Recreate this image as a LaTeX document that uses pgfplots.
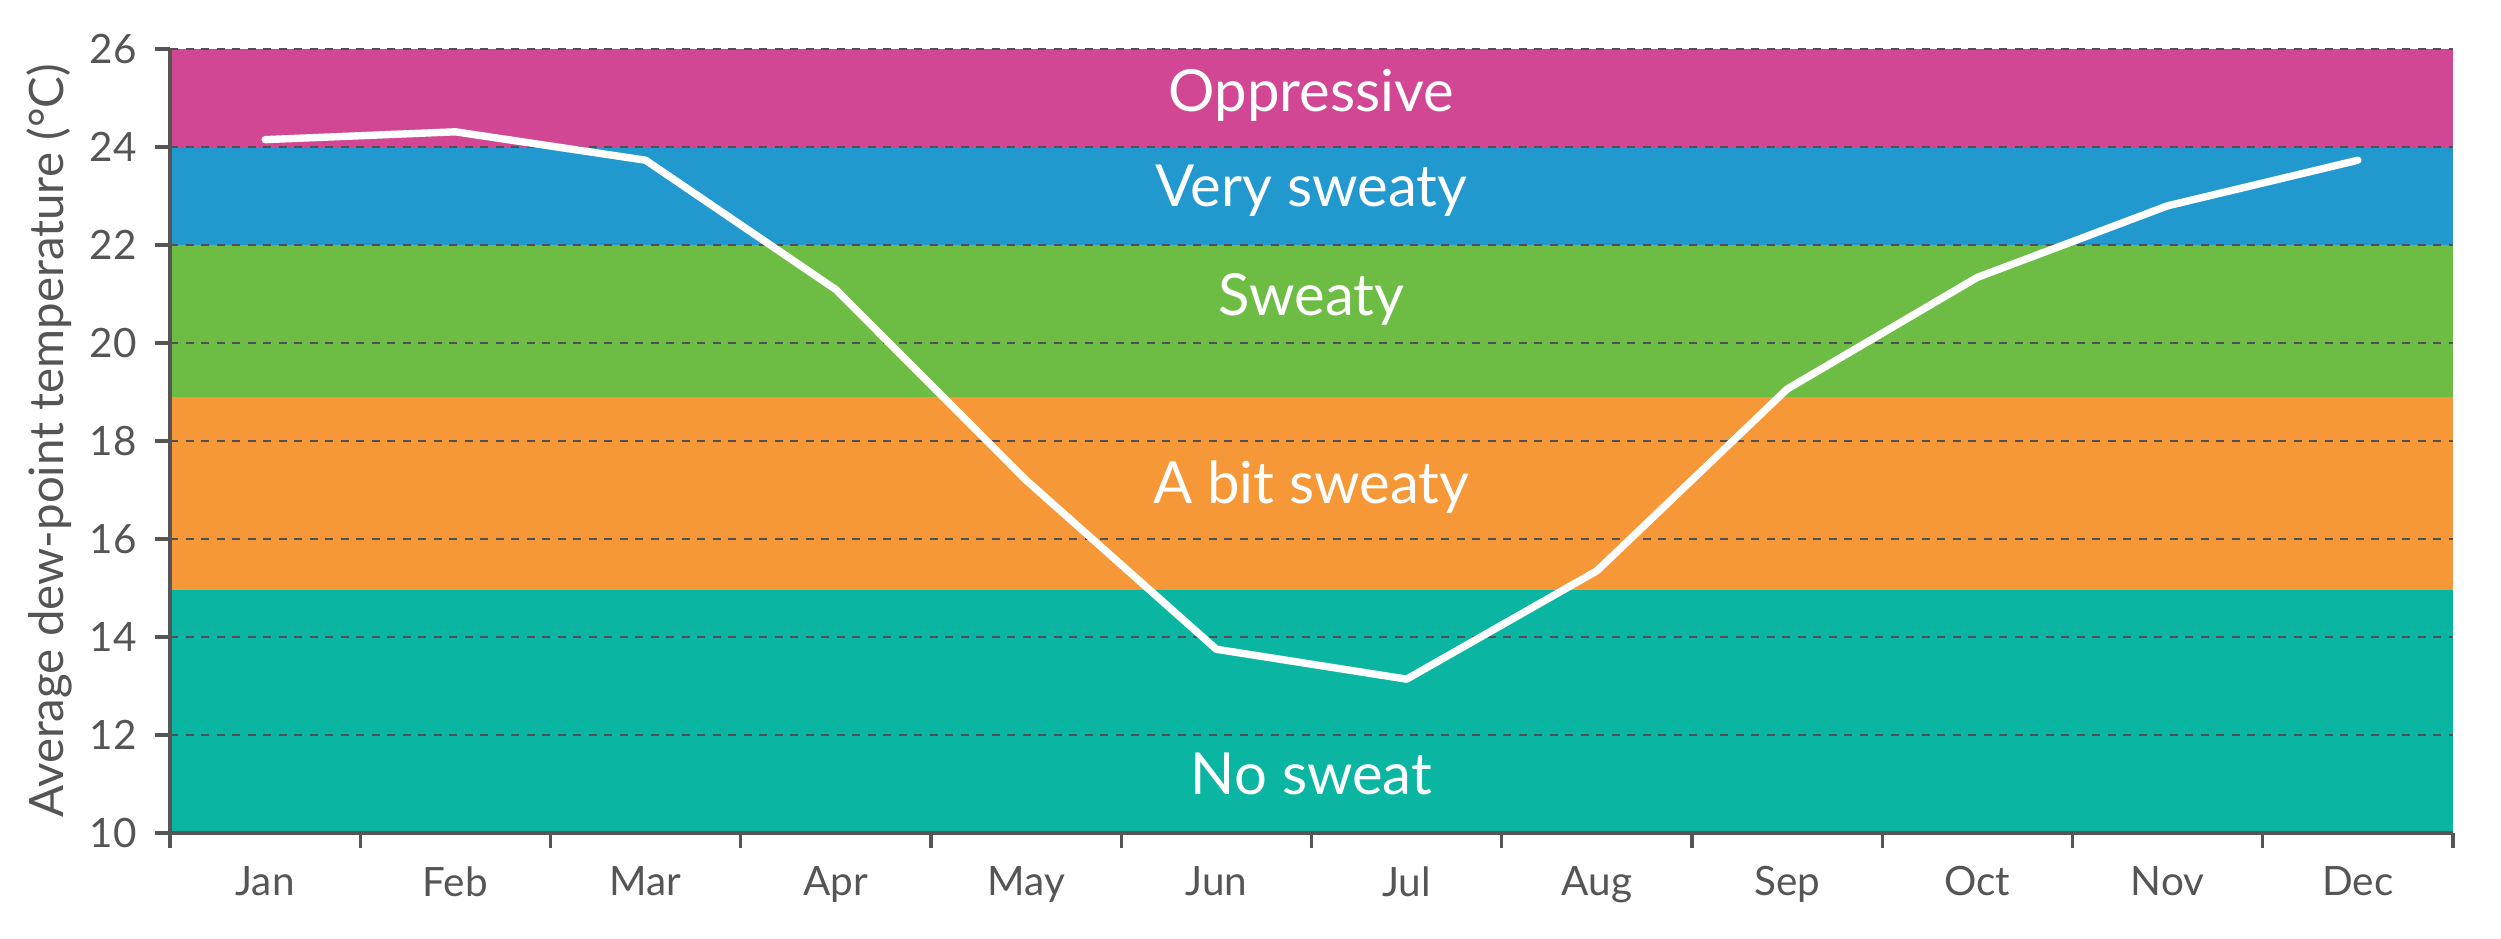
\documentclass[border=0pt]{standalone}
\usepackage{pgfplots}
\pgfplotsset{compat=1.18}
\usepackage{fontspec}
\setmainfont{Lato}
\definecolor{cpink}{HTML}{D14794}
\definecolor{cblue}{HTML}{2199CE}
\definecolor{cgreen}{HTML}{6DBD45}
\definecolor{corange}{HTML}{F69838}
\definecolor{cteal}{HTML}{0AB6A2}
\definecolor{axgray}{HTML}{555555}
\definecolor{gridgray}{HTML}{4F4F55}
\begin{document}
\begin{tikzpicture}
\path[use as bounding box] (-17mm,-10.5mm) rectangle (233.1mm,83.3mm);
\begin{axis}[
  at={(0,0)}, anchor=south west,
  scale only axis, width=228.3mm, height=78.4mm,
  xmin=0, xmax=12, ymin=10, ymax=26,
  axis x line*=bottom, axis y line*=left,
  axis line style={axgray, line width=0.9pt},
  axis on top=true,
  xtick={0,...,12},
  xticklabels={Jan,Feb,Mar,Apr,May,Jun,Jul,Aug,Sep,Oct,Nov,Dec},
  x tick label as interval,
  ytick={10,12,...,26},
  tick align=outside,
  major tick length=1.5mm,
  tick style={axgray, line width=0.9pt},
  ticklabel style={font=\fontsize{11.5}{13}\selectfont, text=axgray},
  /pgf/number format/assume math mode=true,
  yticklabel style={xshift=-0.6mm},
  xticklabel style={yshift=-0.6mm},
  ylabel={Average dew-point temperature (°C)},
  ylabel style={font=\fontsize{13.5}{15}\selectfont, text=axgray, at={(axis description cs:-0.053,0.5)}, anchor=center},
  clip=false,
]
% bands (each filled down to ymin, drawn top first)
\addplot[fill=cpink, draw=none] coordinates {(0,26) (12,26)} \closedcycle;
\addplot[fill=cblue, draw=none] coordinates {(0,24) (12,24)} \closedcycle;
\addplot[fill=cgreen, draw=none] coordinates {(0,22) (12,22)} \closedcycle;
\addplot[fill=corange, draw=none] coordinates {(0,18.9) (12,18.9)} \closedcycle;
\addplot[fill=cteal, draw=none] coordinates {(0,14.95) (12,14.95)} \closedcycle;
% dashed grid
\pgfplotsinvokeforeach{12,14,16,18,20,22,24,26}{
  \addplot[gridgray, line width=0.6pt, dash pattern=on 0.8mm off 0.75mm] coordinates {(0,#1) (12,#1)};
}
% data
\addplot[white, line width=2.1pt, line cap=round, line join=round] coordinates {
(0.5,24.15) (1.5,24.31) (2.5,23.73) (3.5,21.09) (4.5,17.2) (5.5,13.75)
(6.5,13.14) (7.5,15.35) (8.5,19.06) (9.5,21.34) (10.5,22.8) (11.5,23.73)};
% band labels
\begin{scope}[every node/.style={text=white, font=\fontsize{16.5}{18}\selectfont}]
\node at (axis cs:6,25.05) {Oppressive};
\node at (axis cs:6,23.1) {Very sweaty};
\node at (axis cs:6,20.88) {Sweaty};
\node at (axis cs:6,17.05) {A bit sweaty};
\node at (axis cs:6,11.2) {No sweat};
\end{scope}
\end{axis}
\end{tikzpicture}
\end{document}
